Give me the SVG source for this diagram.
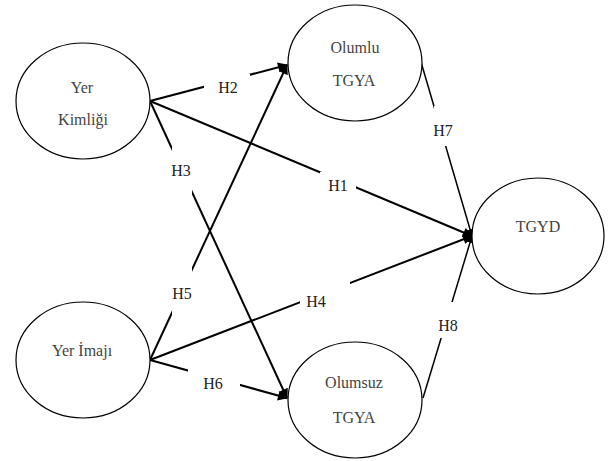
<svg xmlns="http://www.w3.org/2000/svg" width="612" height="461" viewBox="0 0 612 461">
<defs>
<marker id="ah" viewBox="0 0 10 10" refX="9" refY="5" markerWidth="5.5" markerHeight="5" orient="auto" markerUnits="strokeWidth">
<path d="M0,0 L10,5 L0,10 z" fill="#000"/>
</marker>
<style>
.node ellipse{fill:#fff;stroke:#000;stroke-width:1.2}
.node text{font-family:"Liberation Serif","Times New Roman",serif;font-size:16px;fill:#444;text-anchor:middle}
.c line{stroke:#000;stroke-width:2;fill:none}
.c line.thin{stroke-width:1.5}
.c rect{fill:#fff}
.c text{font-family:"Liberation Serif","Times New Roman",serif;font-size:16px;fill:#222;text-anchor:middle}
</style>
</defs>
<rect width="612" height="461" fill="#fff"/>
<g class="c" id="connectors">
<line x1="150" y1="101" x2="287" y2="65" marker-end="url(#ah)"/>
<line x1="150" y1="101" x2="472" y2="236" marker-end="url(#ah)"/>
<line x1="150" y1="101" x2="287" y2="398" marker-end="url(#ah)"/>
<line x1="150" y1="360" x2="287" y2="65" marker-end="url(#ah)"/>
<line x1="150" y1="360" x2="472" y2="236" marker-end="url(#ah)"/>
<line x1="150" y1="360" x2="287" y2="398" marker-end="url(#ah)"/>
<line class="thin" x1="421" y1="62" x2="472" y2="236" marker-end="url(#ah)"/>
<line class="thin" x1="423" y1="398" x2="472" y2="236" marker-end="url(#ah)"/>
<rect x="204" y="74" width="46" height="26"/><text x="228" y="93">H2</text>
<rect x="172" y="145" width="20" height="50"/><text x="181" y="176">H3</text>
<rect x="320" y="172" width="36" height="28"/><text x="338" y="191">H1</text>
<rect x="172" y="266" width="20" height="50"/><text x="182" y="299">H5</text>
<rect x="300" y="282" width="50" height="36"/><text x="316" y="307">H4</text>
<rect x="188" y="368" width="52" height="22"/><text x="213" y="389">H6</text>
<rect x="434" y="106" width="20" height="40"/><text x="443" y="136">H7</text>
<rect x="434" y="302" width="20" height="36"/><text x="448" y="331">H8</text>
</g>
<g class="node" id="yer-kimligi">
<ellipse cx="83" cy="101" rx="67" ry="58"/>
<text x="82" y="93">Yer</text>
<text x="83" y="125">Kimliği</text>
</g>
<g class="node" id="olumlu-tgya">
<ellipse cx="355" cy="63" rx="67" ry="58"/>
<text x="355" y="53">Olumlu</text>
<text x="354" y="86">TGYA</text>
</g>
<g class="node" id="tgyd">
<ellipse cx="538" cy="236" rx="66" ry="58"/>
<text x="538" y="232">TGYD</text>
</g>
<g class="node" id="yer-imaji">
<ellipse cx="83" cy="360" rx="67" ry="58"/>
<text x="82" y="356">Yer İmajı</text>
</g>
<g class="node" id="olumsuz-tgya">
<ellipse cx="355" cy="400" rx="67" ry="58"/>
<text x="354" y="388">Olumsuz</text>
<text x="354" y="423">TGYA</text>
</g>
</svg>
